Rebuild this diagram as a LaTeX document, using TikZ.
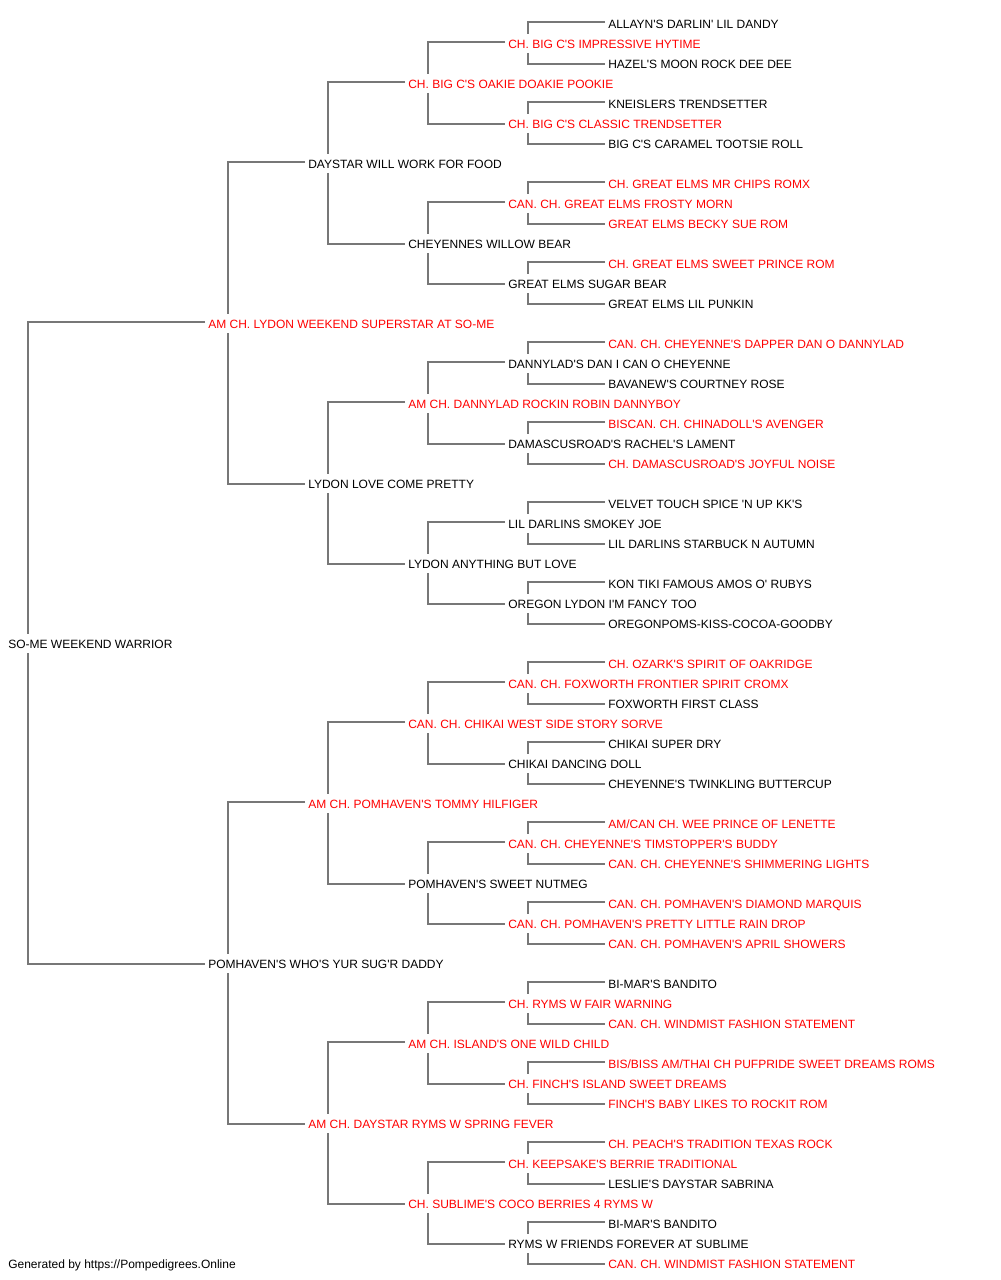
\documentclass[tikz,border=0pt]{standalone}
\usepackage{fontspec}
\newfontfamily\pedfont{Liberation Sans}
\usetikzlibrary{calc}
\definecolor{pedred}{RGB}{255,0,0}
\definecolor{pedline}{RGB}{119,119,119}
\begin{document}
\begin{tikzpicture}[x=0.75pt,y=-0.75pt,
  dog/.style={anchor=west,inner sep=0pt,text height=7.6pt,text depth=0pt,font=\pedfont\fontsize{9}{11}\selectfont,text=black},
  champ/.style={dog,text=pedred},
  conn/.style={draw=pedline,line width=0.9pt}]
\useasboundingbox (0,0) rectangle (1000,1280);
% generation 0
\node[dog] (n31) at (8,643) {SO-ME WEEKEND WARRIOR};
% generation 1
\node[champ] (n15) at (208,323) {AM CH. LYDON WEEKEND SUPERSTAR AT SO-ME};
\node[dog] (n47) at (208,963) {POMHAVEN'S WHO'S YUR SUG'R DADDY};
% generation 2
\node[dog] (n7) at (308,163) {DAYSTAR WILL WORK FOR FOOD};
\node[dog] (n23) at (308,483) {LYDON LOVE COME PRETTY};
\node[champ] (n39) at (308,803) {AM CH. POMHAVEN'S TOMMY HILFIGER};
\node[champ] (n55) at (308,1123) {AM CH. DAYSTAR RYMS W SPRING FEVER};
% generation 3
\node[champ] (n3) at (408,83) {CH. BIG C'S OAKIE DOAKIE POOKIE};
\node[dog] (n11) at (408,243) {CHEYENNES WILLOW BEAR};
\node[champ] (n19) at (408,403) {AM CH. DANNYLAD ROCKIN ROBIN DANNYBOY};
\node[dog] (n27) at (408,563) {LYDON ANYTHING BUT LOVE};
\node[champ] (n35) at (408,723) {CAN. CH. CHIKAI WEST SIDE STORY SORVE};
\node[dog] (n43) at (408,883) {POMHAVEN'S SWEET NUTMEG};
\node[champ] (n51) at (408,1043) {AM CH. ISLAND'S ONE WILD CHILD};
\node[champ] (n59) at (408,1203) {CH. SUBLIME'S COCO BERRIES 4 RYMS W};
% generation 4
\node[champ] (n1) at (508,43) {CH. BIG C'S IMPRESSIVE HYTIME};
\node[champ] (n5) at (508,123) {CH. BIG C'S CLASSIC TRENDSETTER};
\node[champ] (n9) at (508,203) {CAN. CH. GREAT ELMS FROSTY MORN};
\node[dog] (n13) at (508,283) {GREAT ELMS SUGAR BEAR};
\node[dog] (n17) at (508,363) {DANNYLAD'S DAN I CAN O CHEYENNE};
\node[dog] (n21) at (508,443) {DAMASCUSROAD'S RACHEL'S LAMENT};
\node[dog] (n25) at (508,523) {LIL DARLINS SMOKEY JOE};
\node[dog] (n29) at (508,603) {OREGON LYDON I'M FANCY TOO};
\node[champ] (n33) at (508,683) {CAN. CH. FOXWORTH FRONTIER SPIRIT CROMX};
\node[dog] (n37) at (508,763) {CHIKAI DANCING DOLL};
\node[champ] (n41) at (508,843) {CAN. CH. CHEYENNE'S TIMSTOPPER'S BUDDY};
\node[champ] (n45) at (508,923) {CAN. CH. POMHAVEN'S PRETTY LITTLE RAIN DROP};
\node[champ] (n49) at (508,1003) {CH. RYMS W FAIR WARNING};
\node[champ] (n53) at (508,1083) {CH. FINCH'S ISLAND SWEET DREAMS};
\node[champ] (n57) at (508,1163) {CH. KEEPSAKE'S BERRIE TRADITIONAL};
\node[dog] (n61) at (508,1243) {RYMS W FRIENDS FOREVER AT SUBLIME};
% generation 5
\node[dog] (n0) at (608,23) {ALLAYN'S DARLIN' LIL DANDY};
\node[dog] (n2) at (608,63) {HAZEL'S MOON ROCK DEE DEE};
\node[dog] (n4) at (608,103) {KNEISLERS TRENDSETTER};
\node[dog] (n6) at (608,143) {BIG C'S CARAMEL TOOTSIE ROLL};
\node[champ] (n8) at (608,183) {CH. GREAT ELMS MR CHIPS ROMX};
\node[champ] (n10) at (608,223) {GREAT ELMS BECKY SUE ROM};
\node[champ] (n12) at (608,263) {CH. GREAT ELMS SWEET PRINCE ROM};
\node[dog] (n14) at (608,303) {GREAT ELMS LIL PUNKIN};
\node[champ] (n16) at (608,343) {CAN. CH. CHEYENNE'S DAPPER DAN O DANNYLAD};
\node[dog] (n18) at (608,383) {BAVANEW'S COURTNEY ROSE};
\node[champ] (n20) at (608,423) {BISCAN. CH. CHINADOLL'S AVENGER};
\node[champ] (n22) at (608,463) {CH. DAMASCUSROAD'S JOYFUL NOISE};
\node[dog] (n24) at (608,503) {VELVET TOUCH SPICE 'N UP KK'S};
\node[dog] (n26) at (608,543) {LIL DARLINS STARBUCK N AUTUMN};
\node[dog] (n28) at (608,583) {KON TIKI FAMOUS AMOS O' RUBYS};
\node[dog] (n30) at (608,623) {OREGONPOMS-KISS-COCOA-GOODBY};
\node[champ] (n32) at (608,663) {CH. OZARK'S SPIRIT OF OAKRIDGE};
\node[dog] (n34) at (608,703) {FOXWORTH FIRST CLASS};
\node[dog] (n36) at (608,743) {CHIKAI SUPER DRY};
\node[dog] (n38) at (608,783) {CHEYENNE'S TWINKLING BUTTERCUP};
\node[champ] (n40) at (608,823) {AM/CAN CH. WEE PRINCE OF LENETTE};
\node[champ] (n42) at (608,863) {CAN. CH. CHEYENNE'S SHIMMERING LIGHTS};
\node[champ] (n44) at (608,903) {CAN. CH. POMHAVEN'S DIAMOND MARQUIS};
\node[champ] (n46) at (608,943) {CAN. CH. POMHAVEN'S APRIL SHOWERS};
\node[dog] (n48) at (608,983) {BI-MAR'S BANDITO};
\node[champ] (n50) at (608,1023) {CAN. CH. WINDMIST FASHION STATEMENT};
\node[champ] (n52) at (608,1063) {BIS/BISS AM/THAI CH PUFPRIDE SWEET DREAMS ROMS};
\node[champ] (n54) at (608,1103) {FINCH'S BABY LIKES TO ROCKIT ROM};
\node[champ] (n56) at (608,1143) {CH. PEACH'S TRADITION TEXAS ROCK};
\node[dog] (n58) at (608,1183) {LESLIE'S DAYSTAR SABRINA};
\node[dog] (n60) at (608,1223) {BI-MAR'S BANDITO};
\node[champ] (n62) at (608,1263) {CAN. CH. WINDMIST FASHION STATEMENT};
% footer
\node[dog] (foot) at (8,1263) {Generated by https://Pompedigrees.Online};
% connectors
\foreach \p/\a/\b in {31/15/47,
  15/7/23, 47/39/55,
  7/3/11, 23/19/27, 39/35/43, 55/51/59,
  3/1/5, 11/9/13, 19/17/21, 27/25/29, 35/33/37, 43/41/45, 51/49/53, 59/57/61,
  1/0/2, 5/4/6, 9/8/10, 13/12/14, 17/16/18, 21/20/22, 25/24/26, 29/28/30,
  33/32/34, 37/36/38, 41/40/42, 45/44/46, 49/48/50, 53/52/54, 57/56/58, 61/60/62}
{
  \draw[conn] ($(n\a.west)+(-3,-1)$) -| ($(n\p.west)+(20,-9)$);
  \draw[conn] ($(n\p.west)+(20,10)$) |- ($(n\b.west)+(-3,1)$);
}
\end{tikzpicture}
\end{document}
